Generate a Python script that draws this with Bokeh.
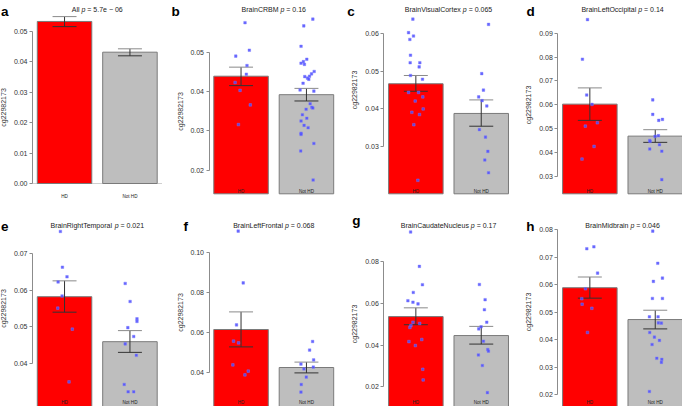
from bokeh.plotting import figure
from bokeh.layouts import column, row
from bokeh.models import Range1d, FixedTicker, NumeralTickFormatter, Label
from bokeh.embed import file_html
from bokeh.resources import INLINE

# ---------------- data ----------------
panel_letters = ["a", "b", "c", "d", "e", "f", "g", "h"]
tissues = ["All", "BrainCRBM", "BrainVisualCortex", "BrainLeftOccipital",
           "BrainRightTemporal", "BrainLeftFrontal", "BrainCaudateNucleus", "BrainMidbrain"]
p_values = ["5.7e \u2212 06", "0.16", "0.065", "0.14", "0.021", "0.068", "0.17", "0.046"]
groups = ["HD", "Not HD"]
y_label = "cg22982173"

hd_mean = [0.0533, 0.0439, 0.0467, 0.0603, 0.0582, 0.0615, 0.0537, 0.0589]
hd_lower = [0.0516, 0.0415, 0.0447, 0.0535, 0.0540, 0.0528, 0.0498, 0.0551]
hd_upper = [0.0549, 0.0462, 0.0489, 0.0671, 0.0625, 0.0703, 0.0579, 0.0628]
nothd_mean = [0.0432, 0.0392, 0.0388, 0.0469, 0.0460, 0.0425, 0.0446, 0.0473]
nothd_lower = [0.0420, 0.0376, 0.0354, 0.0443, 0.0431, 0.0398, 0.0405, 0.0439]
nothd_upper = [0.0443, 0.0408, 0.0424, 0.0496, 0.0490, 0.0452, 0.0490, 0.0507]

ticks_a = [0.00, 0.01, 0.02, 0.03, 0.04, 0.05]
ticks_b = [0.02, 0.03, 0.04, 0.05]
ticks_c = [0.03, 0.04, 0.05, 0.06]
ticks_d = [0.03, 0.04, 0.05, 0.06, 0.07, 0.08, 0.09]
ticks_e = [0.04, 0.05, 0.06, 0.07]
ticks_f = [0.04, 0.06, 0.08, 0.10]
ticks_g = [0.02, 0.04, 0.06, 0.08]
ticks_h = [0.02, 0.03, 0.04, 0.05, 0.06, 0.07, 0.08]

# individual samples (value) and their horizontal jitter (in bar widths)
hd_b = [0.0575, 0.0490, 0.0505, 0.0466, 0.0444, 0.0423, 0.0403, 0.0366, 0.0316]
hd_b_jit = [0.073, -0.097, 0.152, 0.109, 0.097, -0.109, -0.018, 0.17, -0.048]
nothd_b = [0.0584, 0.0567, 0.0515, 0.0482, 0.0476, 0.0472, 0.0469, 0.0451, 0.0445, 0.0439,
           0.0438, 0.0434, 0.0431, 0.0421, 0.0404, 0.0401, 0.0369, 0.0360, 0.0358, 0.0355,
           0.0341, 0.0332, 0.0325, 0.0314, 0.0308, 0.0294, 0.0291, 0.0268, 0.0249, 0.0175]
nothd_b_jit = [0.117, -0.049, -0.099, 0.006, -0.056, -0.099, -0.037, 0.142, 0.093, 0.056,
               -0.031, 0.019, 0.043, -0.062, -0.117, 0.136, 0.068, 0.099, 0.117, -0.006,
               -0.074, 0.006, -0.099, -0.043, 0.031, -0.099, -0.099, 0.136, -0.105, 0.123]

hd_c = [0.0639, 0.0603, 0.0594, 0.0585, 0.0543, 0.0523, 0.0523, 0.0512, 0.0489, 0.0479,
        0.0444, 0.0444, 0.0432, 0.0421, 0.0400, 0.0391, 0.0385, 0.0358, 0.0210]
hd_c_jit = [-0.055, -0.134, -0.043, -0.11, -0.098, -0.104, 0.073, 0.061, -0.098, 0.122,
            -0.134, 0.049, 0.128, -0.012, 0.134, -0.073, 0.067, -0.037, 0.037]
nothd_c = [0.0625, 0.0494, 0.0450, 0.0432, 0.0422, 0.0408, 0.0345, 0.0325, 0.0287, 0.0264, 0.0230]
nothd_c_jit = [0.134, 0.009, 0.04, -0.047, 0.016, 0.102, -0.034, 0.078, 0.121, 0.065, 0.134]

hd_d = [0.0957, 0.0791, 0.0641, 0.0602, 0.0525, 0.0511, 0.0426, 0.0373]
hd_d_jit = [-0.043, -0.136, -0.058, 0.04, 0.138, -0.083, 0.077, -0.144]
nothd_d = [0.0621, 0.0560, 0.0539, 0.0535, 0.0471, 0.0468, 0.0451, 0.0447, 0.0433, 0.0415, 0.0406, 0.0287]
nothd_d_jit = [-0.046, -0.046, 0.132, 0.064, 0.058, -0.003, -0.101, -0.095, 0.077, -0.101, 0.12, 0.12]

hd_e = [0.0759, 0.0662, 0.0636, 0.0622, 0.0584, 0.0551, 0.0494, 0.0351]
hd_e_jit = [-0.076, -0.039, 0.045, -0.118, -0.045, -0.124, 0.142, 0.082]
nothd_e = [0.0618, 0.0569, 0.0522, 0.0515, 0.0498, 0.0474, 0.0454, 0.0423, 0.0344, 0.0324, 0.0324]
nothd_e_jit = [-0.087, 0.003, 0.129, 0.129, -0.039, 0.069, -0.087, 0.117, -0.105, -0.033, 0.069]

hd_f = [0.1107, 0.0848, 0.0638, 0.0557, 0.0548, 0.0438, 0.0407, 0.0388]
hd_f_jit = [-0.052, 0.04, -0.083, -0.138, -0.046, -0.15, 0.132, 0.071]
nothd_f = [0.0555, 0.0512, 0.0463, 0.0442, 0.0427, 0.0418, 0.0377, 0.0340, 0.0302]
nothd_f_jit = [0.113, 0.058, 0.132, -0.101, 0.126, -0.046, -0.003, -0.095, -0.101]

hd_g = [0.0943, 0.0778, 0.0690, 0.0653, 0.0613, 0.0606, 0.0598, 0.0510, 0.0504, 0.0494,
        0.0485, 0.0427, 0.0417, 0.0398, 0.0284, 0.0233]
hd_g_jit = [-0.096, 0.065, 0.121, -0.047, -0.146, -0.053, 0.04, -0.053, 0.071, -0.09,
            -0.109, 0.109, -0.127, -0.009, 0.127, 0.134]
nothd_g = [0.0691, 0.0618, 0.0570, 0.0510, 0.0488, 0.0478, 0.0419, 0.0379, 0.0371, 0.0353, 0.0302, 0.0172]
nothd_g_jit = [-0.034, 0.071, 0.058, 0.101, -0.003, -0.046, 0.04, 0.12, 0.132, -0.052, 0.021, 0.113]

hd_h = [0.0738, 0.0731, 0.0642, 0.0585, 0.0549, 0.0529, 0.0514, 0.0426]
hd_h_jit = [0.074, -0.056, 0.142, -0.08, -0.148, -0.142, 0.037, -0.043]
nothd_h = [0.0795, 0.0678, 0.0624, 0.0612, 0.0550, 0.0550, 0.0483, 0.0483, 0.0461, 0.0460,
           0.0426, 0.0409, 0.0397, 0.0382, 0.0332, 0.0328, 0.0317, 0.0211]
nothd_h_jit = [-0.046, 0.046, 0.132, -0.034, -0.052, 0.132, -0.107, 0.052, 0.058, 0.113,
               -0.101, -0.015, 0.077, -0.058, 0.028, 0.12, 0.113, -0.107]

ticks = [ticks_a, ticks_b, ticks_c, ticks_d, ticks_e, ticks_f, ticks_g, ticks_h]
hd_points = [([], []), (hd_b, hd_b_jit), (hd_c, hd_c_jit), (hd_d, hd_d_jit),
             (hd_e, hd_e_jit), (hd_f, hd_f_jit), (hd_g, hd_g_jit), (hd_h, hd_h_jit)]
nothd_points = [([], []), (nothd_b, nothd_b_jit), (nothd_c, nothd_c_jit), (nothd_d, nothd_d_jit),
                (nothd_e, nothd_e_jit), (nothd_f, nothd_f_jit), (nothd_g, nothd_g_jit), (nothd_h, nothd_h_jit)]

# ---------------- layout / style ----------------
FONT = "Liberation Sans"
col_edges = [0, 170, 345, 520, 682]
row_edges = [0, 200, 406]
axis_x = [32, 208.5, 383.3, 557.3]
UNIT = 54.5                     # px per bar width
X0, XSPAN = 0.112, 2.376        # R barplot x limits (start, span)
bar_floor_px = [[189.6, 193.3, 193.3, 193.3], [406, 406, 406, 406]]
# y calibration (value, page px) from two ticks
y_cal = [((0.0, 183), (0.05, 31)), ((0.02, 169.7), (0.05, 51.7)), ((0.03, 146), (0.06, 33.3)),
         ((0.03, 176), (0.09, 32.7)), ((0.04, 363.3), (0.07, 252.7)), ((0.04, 372), (0.10, 252)),
         ((0.02, 386.3), (0.08, 261.3)), ((0.02, 394), (0.08, 229.3))]
title_y = [9.3, 225.3]
letter_pos = [(0.5, 10.7), (171, 10.7), (346.7, 10.7), (526, 11),
              (0.5, 226), (183, 226), (351.7, 219.5), (525.7, 226)]
cat_label_y = [195.5, 190.7, 190.7, 190.7, 402.3, 402.3, 402.3, 402.3]

CENTERS = [0.7, 1.9]
CAP = 0.22
TFS = 7

ARIAL = {" ": 278, ".": 278, "=": 584, "\u2212": 584, "A": 667, "B": 667, "C": 722, "D": 722,
         "F": 611, "H": 722, "L": 556, "M": 833, "N": 722, "O": 778, "R": 722, "T": 611, "V": 667,
         "a": 556, "b": 556, "c": 500, "d": 556, "e": 556, "f": 278, "g": 556, "h": 556, "i": 222,
         "l": 222, "m": 833, "n": 556, "o": 556, "p": 556, "r": 333, "s": 500, "t": 278, "u": 556,
         "x": 500}


def tw(s, size):
    return sum(ARIAL.get(ch, 556) for ch in s) / 1000.0 * size


figs = []
for i in range(8):
    r, c = divmod(i, 4)
    W = col_edges[c + 1] - col_edges[c]
    H = row_edges[r + 1] - row_edges[r]
    ax_rel = axis_x[c] - col_edges[c]
    x_start = X0 - ax_rel / UNIT
    x_end = x_start + W / UNIT
    (v1, p1), (v2, p2) = y_cal[i]
    ppv = (p1 - p2) / (v2 - v1)

    def yv(py, v2=v2, p2=p2, ppv=ppv):
        return v2 + (p2 - py) / ppv

    def xv(px, c=c, x_start=x_start):
        return x_start + (px - col_edges[c]) / UNIT

    y_top = yv(row_edges[r])
    y_bot = yv(row_edges[r + 1])
    bar_floor = max(0.0, yv(bar_floor_px[r][c]))

    p = figure(width=W, height=H, x_range=Range1d(x_start, x_end), y_range=Range1d(y_bot, y_top),
               x_axis_type=None, toolbar_location=None, output_backend="svg",
               min_border=0, min_border_left=0, min_border_right=0, min_border_top=0,
               min_border_bottom=0, outline_line_color=None,
               background_fill_color="white", border_fill_color="white")
    p.grid.visible = False

    if i == 0:
        p.segment(x0=[X0], y0=[0], x1=[X0 + XSPAN], y1=[0], line_color="#d0d0d0", line_width=1)

    p.vbar(x=CENTERS, width=1.0, bottom=bar_floor, top=[hd_mean[i], nothd_mean[i]],
           fill_color=["#ff0000", "#bebebe"], line_color="#7a7a7a", line_width=1)

    lo = [hd_lower[i], nothd_lower[i]]
    hi = [hd_upper[i], nothd_upper[i]]
    p.segment(x0=CENTERS, y0=lo, x1=CENTERS, y1=hi, line_color="#333333", line_width=1)
    p.segment(x0=[x - CAP for x in CENTERS], y0=lo, x1=[x + CAP for x in CENTERS], y1=lo,
              line_color="#333333", line_width=1)
    p.segment(x0=[x - CAP for x in CENTERS], y0=hi, x1=[x + CAP for x in CENTERS], y1=hi,
              line_color="#8a8a8a", line_width=1)

    for k, (vals, jit) in enumerate([hd_points[i], nothd_points[i]]):
        if vals:
            p.scatter(x=[CENTERS[k] + j for j in jit], y=vals, marker="square", size=2.6,
                      fill_color="#4a4aff", line_color="#7a7aff", line_width=0.5, alpha=0.85)

    ax = p.yaxis[0]
    tk = ticks[i]
    ax.fixed_location = X0
    ax.ticker = FixedTicker(ticks=tk)
    ax.formatter = NumeralTickFormatter(format="0.00")
    ax.bounds = (min(tk), max(tk))
    ax.axis_line_color = "#8c8c8c"
    ax.major_tick_line_color = "#8c8c8c"
    ax.minor_tick_line_color = None
    ax.major_tick_out = 3
    ax.major_tick_in = 0
    ax.major_label_standoff = 2
    ax.major_label_text_font = FONT
    ax.major_label_text_font_size = f"{TFS}px"
    ax.major_label_text_color = "#333333"
    ax.axis_label = y_label
    ax.axis_label_text_font = FONT
    ax.axis_label_text_font_size = f"{TFS}px"
    ax.axis_label_text_font_style = "normal"
    ax.axis_label_text_color = "#333333"
    ax.axis_label_standoff = 4

    # title: "<tissue> p = <value>" with italic p
    full = tissues[i] + " p = " + p_values[i]
    start = -tw(full, TFS) / 2
    off_p = start + tw(tissues[i] + " ", TFS)
    off_rest = off_p + tw("p ", TFS)
    ty = yv(title_y[r])
    for txt, off, style in [(tissues[i], start, "normal"), ("p", off_p, "italic"),
                            ("= " + p_values[i], off_rest, "normal")]:
        p.add_layout(Label(x=X0 + XSPAN / 2, y=ty, x_offset=off, text=txt,
                           text_font=FONT, text_font_size=f"{TFS}px", text_font_style=style,
                           text_color="#222222", text_align="left", text_baseline="middle"))

    # panel letter
    lx, lyb = letter_pos[i]
    p.add_layout(Label(x=xv(lx), y=yv(lyb), text=panel_letters[i], text_font=FONT,
                       text_font_size="13.5px", text_font_style="bold", text_color="black",
                       text_align="left", text_baseline="alphabetic"))

    # category labels
    for k, g in enumerate(groups):
        p.add_layout(Label(x=CENTERS[k], y=yv(cat_label_y[i]), text=g, text_font=FONT,
                           text_font_size="4.6px", text_color="#222222",
                           text_align="center", text_baseline="middle"))
    figs.append(p)

layout = column(row(*figs[:4], spacing=0), row(*figs[4:], spacing=0), spacing=0)
open("out.html", "w").write(file_html(layout, INLINE))
